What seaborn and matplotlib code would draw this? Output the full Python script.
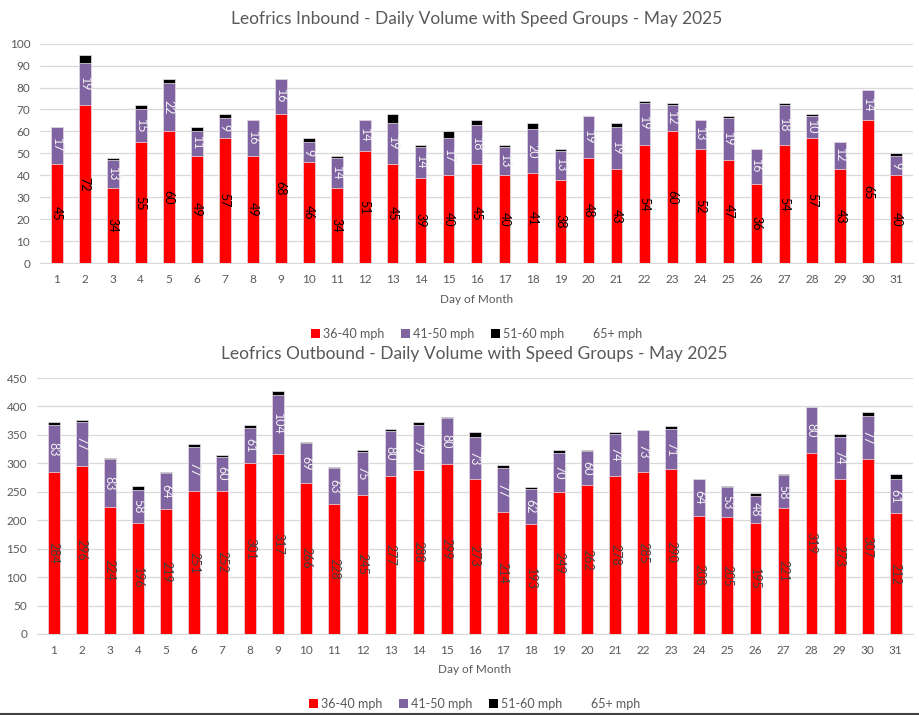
import numpy as np
import pandas as pd
import matplotlib
matplotlib.use("Agg")
import matplotlib.pyplot as plt
import seaborn as sns
from matplotlib.patches import Patch
from matplotlib.lines import Line2D

days = list(range(1, 32))
groups = ["36-40 mph", "41-50 mph", "51-60 mph", "65+ mph"]
colors = ["#FF0000", "#8064A2", "#000000", "#FFFFFF"]

# Inbound
in_36_40 = [45, 72, 34, 55, 60, 49, 57, 49, 68, 46, 34, 51, 45, 39, 40, 45,
            40, 41, 38, 48, 43, 54, 60, 52, 47, 36, 54, 57, 43, 65, 40]
in_41_50 = [17, 19, 13, 15, 22, 11, 9, 16, 16, 9, 14, 14, 19, 14, 17, 18,
            13, 20, 13, 19, 19, 19, 12, 13, 19, 16, 18, 10, 12, 14, 9]
in_51_60 = [0, 4, 1, 2, 2, 2, 2, 0, 0, 2, 1, 0, 4, 1, 3, 2,
            1, 3, 1, 0, 2, 1, 1, 0, 1, 0, 1, 1, 0, 0, 1]
in_65 = [0] * 31

# Outbound
out_36_40 = [284, 296, 224, 196, 219, 251, 252, 301, 317, 266, 228, 245, 277, 288, 299, 273,
             214, 193, 249, 262, 278, 285, 290, 208, 205, 195, 221, 319, 273, 307, 212]
out_41_50 = [83, 77, 83, 58, 64, 77, 60, 61, 104, 69, 63, 75, 80, 79, 80, 73,
             77, 62, 70, 60, 74, 73, 71, 64, 53, 48, 58, 80, 74, 77, 61]
out_51_60 = [5, 4, 2, 6, 2, 6, 2, 5, 6, 2, 3, 3, 3, 6, 3, 9,
             6, 4, 4, 2, 3, 1, 4, 0, 3, 4, 3, 0, 5, 7, 8]
out_65 = [0] * 31

TEXT = "#595959"
GRID = "#D9D9D9"

sns.set_style("white")
plt.rcParams["font.family"] = ["Lato", "DejaVu Sans"]


def stacked_chart(ax, series, ymax, ystep, title, red_label_color, legend_y):
    df = pd.DataFrame({"day": days})
    cum = np.zeros(len(days))
    cums = []
    for s in series:
        cum = cum + np.array(s)
        cums.append(cum.copy())
    # draw from the top layer down so lower segments cover upper ones
    for k in range(len(series) - 1, -1, -1):
        df["v"] = cums[k]
        if not np.any(np.array(series[k])):
            continue
        sns.barplot(data=df, x="day", y="v", color=colors[k], ax=ax,
                    width=0.42, edgecolor="#EDE6F0", linewidth=0.5,
                    saturation=1, errorbar=None, zorder=3)
    # segment labels
    for k, lc in [(0, red_label_color), (1, "#F2F2F2")]:
        base = cums[k] - np.array(series[k])
        for i, v in enumerate(series[k]):
            if v > 0:
                ax.text(i, base[i] + v / 2, str(v), rotation=270, ha="center",
                        va="center", fontsize=9, color=lc, zorder=5)
    ax.set_ylim(0, ymax)
    ax.set_yticks(np.arange(0, ymax + 1, ystep))
    ax.set_xlim(-0.6, len(days) - 0.4)
    ax.grid(axis="y", color=GRID, linewidth=0.9, zorder=0)
    ax.set_axisbelow(True)
    for sp in ["top", "right", "left"]:
        ax.spines[sp].set_visible(False)
    ax.spines["bottom"].set_color(GRID)
    ax.tick_params(axis="both", colors=TEXT, labelsize=8.5, length=0, pad=8)
    ax.tick_params(axis="y", pad=7)
    ax.set_ylabel("")
    ax.set_xlabel("Day of Month", color=TEXT, fontsize=8.5, labelpad=6)
    ax.set_title(title, color=TEXT, fontsize=12.5, pad=14)
    handles = [Patch(facecolor=c, edgecolor="none", label=g) for c, g in zip(colors, groups)]
    ax.legend(handles=handles, loc="center", bbox_to_anchor=(0.5, legend_y),
              ncol=4, frameon=False, fontsize=9, labelcolor=TEXT,
              handlelength=0.75, handleheight=0.75, handletextpad=0.25, columnspacing=1.3)


fig = plt.figure(figsize=(9.2, 7.15), dpi=100)
ax1 = fig.add_axes([0.0435, 0.632, 0.949, 0.307])
ax2 = fig.add_axes([0.040, 0.1133, 0.952, 0.358])

stacked_chart(ax1, [in_36_40, in_41_50, in_51_60, in_65], 100, 10,
              "Leofrics Inbound - Daily Volume with Speed Groups - May 2025", "#000000", -0.323)
stacked_chart(ax2, [out_36_40, out_41_50, out_51_60, out_65], 450, 50,
              "Leofrics Outbound - Daily Volume with Speed Groups - May 2025", "#404040", -0.273)

fig.add_artist(Line2D([0, 1], [0.002, 0.002], color="#404040", linewidth=1.5,
                      transform=fig.transFigure))

fig.savefig("out.png", dpi=100, facecolor="white")
